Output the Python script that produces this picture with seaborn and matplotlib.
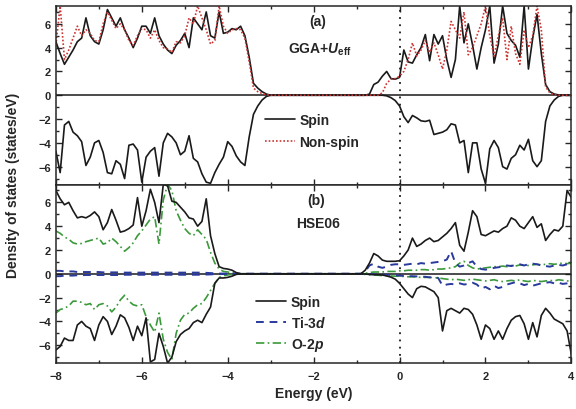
import numpy as np
import matplotlib
matplotlib.use('Agg')
import matplotlib.pyplot as plt
import seaborn as sns
from matplotlib.ticker import MultipleLocator

# Energy sampling (eV): valence region and conduction region
E_val = np.round(np.arange(-8.0, -2.95, 0.1), 1)
E_con = np.round(np.arange(-1.2, 4.05, 0.1), 1)

# ---- (a) GGA+U_eff ----
a_spin_up_val = [4.5, 3.5, 2.6, 3.2, 3.8, 4.5, 4.8, 6.5, 5.0, 4.5,
                 4.3, 5.5, 7.2, 6.5, 5.8, 6.5, 5.5, 4.8, 4.0, 4.8,
                 5.8, 5.8, 5.2, 6.5, 5.0, 4.3, 3.8, 3.5, 4.2, 4.6,
                 5.2, 4.0, 6.5, 6.0, 5.5, 7.0, 5.0, 4.8, 7.0, 5.2,
                 5.3, 5.6, 5.5, 5.8, 5.0, 3.2, 1.0, 0.6, 0.3, 0.1,
                 0.0]
a_spin_up_con = [0, 0, 0, 0, 0, 0.1, 0.9, 1.1, 1.6, 2.0,
                 1.4, 1.35, 1.5, 3.8, 2.8, 2.7, 3.4, 4.0, 5.1, 2.9,
                 5.1, 4.3, 5.0, 3.0, 1.5, 3.0, 7.5, 4.4, 6.0, 4.2,
                 2.2, 4.0, 5.5, 7.5, 2.7, 4.3, 7.5, 5.2, 4.6, 4.2,
                 3.2, 7.5, 2.2, 4.8, 6.8, 3.5, 0.9, 0.3, 0.1, 0.03,
                 0, 0, 0]
a_spin_dn_val = [-4.7, -6.5, -2.5, -2.2, -3.1, -3.4, -3.9, -5.9, -5.2, -4.0,
                 -3.8, -4.8, -6.5, -6.6, -5.5, -5.8, -7.0, -4.2, -4.1, -4.6,
                 -7.3, -5.2, -4.7, -4.4, -6.8, -4.0, -3.2, -3.5, -4.0, -5.0,
                 -4.7, -3.4, -5.3, -5.6, -6.6, -7.3, -7.4, -6.5, -5.8, -5.2,
                 -3.9, -4.3, -5.1, -5.6, -5.9, -3.5, -1.6, -0.9, -0.4, -0.1,
                 0.0]
a_spin_dn_con = [0, 0, 0, 0, 0, 0, 0, 0, 0, -0.05,
                 -0.2, -0.45, -0.9, -1.8, -2.3, -1.7, -1.9, -2.15, -2.2, -2.1,
                 -3.3, -3.2, -3.1, -2.9, -2.4, -2.5, -4.0, -3.8, -6.5, -4.0,
                 -4.0, -6.2, -7.4, -4.5, -3.8, -4.4, -6.0, -6.2, -5.3, -5.0,
                 -4.2, -4.6, -3.7, -5.5, -6.0, -5.5, -2.2, -0.9, -0.4, -0.1,
                 0, 0, 0]
a_nonspin_val = [4.2, 7.5, 3.0, 3.8, 4.8, 5.8, 5.0, 5.5, 5.2, 4.6,
                 4.5, 6.0, 7.0, 6.3, 5.6, 6.0, 5.5, 4.6, 4.2, 5.0,
                 5.6, 5.5, 4.8, 5.5, 4.6, 4.0, 3.9, 3.6, 4.5, 4.4,
                 5.0, 6.5, 6.0, 7.5, 6.5, 5.5, 4.3, 4.6, 7.5, 5.8,
                 5.2, 5.5, 5.6, 5.5, 4.8, 2.8, 0.6, 0.3, 0.15, 0.05,
                 0.0]
a_nonspin_con = [0, 0, 0, 0, 0, 0, 0, 0, 0.2, 1.0,
                 1.35, 1.4, 1.6, 2.0, 3.0, 4.4, 3.3, 3.8, 4.6, 3.6,
                 4.4, 3.4, 2.2, 3.8, 6.2, 5.5, 4.8, 7.0, 3.4, 4.0,
                 5.0, 6.0, 7.5, 5.0, 3.3, 5.0, 6.5, 3.0, 5.8, 3.5,
                 2.6, 5.5, 4.0, 5.0, 7.5, 5.5, 0.7, 0.2, 0.05, 0,
                 0, 0, 0]

# ---- (b) HSE06 ----
b_spin_up_val = [7.0, 6.3, 5.8, 6.0, 5.3, 4.7, 4.8, 4.7, 4.9, 5.2,
                 4.8, 3.7, 4.3, 5.4, 4.5, 3.5, 3.6, 3.8, 4.1, 6.4,
                 4.0, 5.3, 7.1, 6.0, 4.3, 7.5, 7.4, 6.1, 6.0, 5.6,
                 5.2, 4.7, 4.6, 4.0, 4.4, 6.3, 3.2, 1.7, 0.6, 0.45,
                 0.4, 0.3, 0.1, 0, 0, 0, 0, 0, 0, 0,
                 0]
b_spin_up_con = [0, 0, 0, 0, 0.3, 0.9, 1.7, 1.5, 1.15, 1.05,
                 1.05, 1.05, 1.1, 1.5, 2.0, 3.0, 2.3, 2.5, 2.8, 3.0,
                 2.7, 2.8, 3.1, 3.4, 3.8, 4.3, 2.4, 1.9, 3.5, 5.3,
                 4.8, 3.3, 3.2, 3.4, 3.6, 3.5, 3.8, 4.0, 4.7, 4.5,
                 4.0, 3.8, 4.3, 4.8, 3.9, 4.2, 2.8, 3.3, 3.7, 3.6,
                 4.0, 7.0, 6.4]
b_spin_dn_val = [-6.4, -6.1, -5.4, -5.6, -5.6, -4.3, -4.0, -4.4, -4.6, -5.6,
                 -4.3, -3.6, -4.0, -5.1, -4.4, -3.45, -3.7, -4.5, -5.6, -4.4,
                 -5.2, -3.7, -7.4, -7.2, -5.0, -6.1, -7.5, -7.0, -5.7, -5.1,
                 -4.8, -4.6, -4.1, -3.9, -4.1, -3.4, -2.8, -0.8, -0.35, -0.35,
                 -0.3, -0.2, -0.05, 0, 0, 0, 0, 0, 0, 0,
                 0]
b_spin_dn_con = [0, 0, 0, 0, -0.02, -0.05, -0.07, -0.08, -0.1, -0.18,
                 -0.28, -0.45, -0.8, -1.25, -1.7, -2.0, -1.25, -1.05, -1.1, -1.3,
                 -1.5, -2.0, -4.8, -3.1, -2.9, -3.1, -3.3, -2.9, -3.0, -3.4,
                 -4.3, -5.5, -4.3, -4.6, -5.5, -4.8, -5.5, -4.6, -3.9, -3.6,
                 -3.5, -4.2, -5.5, -4.1, -5.3, -3.5, -2.9, -3.3, -3.8, -4.0,
                 -4.2, -4.8, -6.8]
b_ti_up_val = [0.25, 0.25, 0.2, 0.2, 0.2, 0.15, 0.15, 0.15, 0.15, 0.15,
               0.15, 0.12, 0.12, 0.12, 0.12, 0.12, 0.1, 0.1, 0.1, 0.1,
               0.1, 0.1, 0.1, 0.1, 0.1, 0.1, 0.1, 0.1, 0.1, 0.1,
               0.1, 0.1, 0.1, 0.1, 0.1, 0.08, 0.06, 0.04, 0.02, 0.02,
               0.02, 0.01, 0, 0, 0, 0, 0, 0, 0, 0,
               0]
b_ti_up_con = [0, 0, 0, 0, 0.2, 0.7, 0.85, 0.6, 0.5, 0.6,
               0.75, 0.8, 0.8, 0.75, 0.8, 0.85, 0.8, 0.9, 0.85, 0.9,
               0.95, 1.0, 1.05, 1.2, 1.9, 0.9, 0.6, 0.7, 0.9, 1.05,
               0.6, 0.4, 0.35, 0.4, 0.5, 0.55, 0.6, 0.7, 0.65, 0.75,
               0.8, 0.7, 0.8, 0.85, 0.8, 0.7, 0.65, 0.6, 0.7, 0.75,
               0.7, 0.8, 0.75]
b_ti_dn_val = [-0.2, -0.2, -0.15, -0.15, -0.15, -0.12, -0.12, -0.1, -0.1, -0.1,
               -0.1, -0.1, -0.1, -0.1, -0.1, -0.1, -0.08, -0.08, -0.08, -0.08,
               -0.08, -0.08, -0.08, -0.08, -0.08, -0.08, -0.08, -0.08, -0.08, -0.08,
               -0.08, -0.08, -0.08, -0.08, -0.08, -0.06, -0.05, -0.03, -0.02, -0.02,
               -0.01, -0.01, 0, 0, 0, 0, 0, 0, 0, 0,
               0]
b_ti_dn_con = [0, 0, 0, 0, -0.02, -0.03, -0.04, -0.05, -0.06, -0.08,
               -0.1, -0.12, -0.15, -0.18, -0.2, -0.2, -0.22, -0.25, -0.25, -0.3,
               -0.3, -0.35, -1.0, -0.9, -0.85, -0.9, -0.8, -0.9, -0.85, -0.75,
               -0.9, -1.25, -1.1, -1.3, -1.0, -1.2, -1.1, -0.9, -0.8, -0.7,
               -0.8, -0.95, -0.85, -1.0, -0.9, -0.8, -0.75, -0.7, -0.8, -0.75,
               -0.85, -0.8, -0.7]
b_o_up_val = [3.6, 3.4, 3.1, 2.9, 2.6, 2.5, 2.55, 2.7, 2.8, 2.9,
              3.0, 2.5, 2.6, 3.0, 2.7, 2.3, 1.9, 2.2, 2.6, 3.2,
              3.6, 4.1, 4.6, 4.8, 2.5, 6.2, 7.5, 7.0, 5.3, 4.5,
              3.8, 3.4, 3.2, 3.7, 3.3, 2.9, 1.8, 0.9, 0.4, 0.2,
              0.15, 0.1, 0.05, 0, 0, 0, 0, 0, 0, 0,
              0]
b_o_up_con = [0, 0, 0, 0, 0.05, 0.1, 0.15, 0.15, 0.15, 0.2,
              0.2, 0.2, 0.25, 0.25, 0.3, 0.3, 0.3, 0.35, 0.35, 0.3,
              0.35, 0.4, 0.4, 0.45, 0.5, 0.6, 0.9, 1.05, 0.7, 0.5,
              0.4, 0.45, 0.5, 0.55, 0.6, 0.6, 0.65, 0.6, 0.7, 0.65,
              0.75, 0.7, 0.7, 0.75, 0.8, 0.75, 0.8, 0.85, 0.8, 0.85,
              0.9, 0.85, 0.9]
b_o_dn_val = [-3.3, -3.0, -2.9, -2.7, -2.3, -2.3, -2.4, -2.6, -2.5, -3.0,
              -2.6, -2.5, -2.7, -3.2, -2.8, -2.2, -1.8, -2.3, -2.6, -2.7,
              -2.6, -3.6, -4.3, -4.9, -3.3, -5.5, -6.6, -7.2, -5.0, -3.9,
              -3.4, -3.3, -2.9, -2.6, -2.5, -2.0, -1.4, -0.8, -0.3, -0.15,
              -0.1, -0.05, 0, 0, 0, 0, 0, 0, 0, 0,
              0]
b_o_dn_con = [0, 0, 0, 0, -0.05, -0.08, -0.1, -0.12, -0.15, -0.15,
              -0.18, -0.2, -0.2, -0.22, -0.25, -0.25, -0.28, -0.3, -0.3, -0.3,
              -0.32, -0.35, -0.4, -0.45, -0.5, -0.45, -0.5, -0.55, -0.5, -0.45,
              -0.5, -0.55, -0.6, -0.55, -0.5, -0.6, -0.65, -0.6, -0.55, -0.6,
              -0.5, -0.6, -0.65, -0.55, -0.6, -0.65, -0.6, -0.55, -0.6, -0.5,
              -0.55, -0.6, -0.6]

E = np.concatenate([E_val, E_con])


def full(val, con):
    return np.concatenate([val, con])


sns.set_style('ticks')
plt.rcParams['font.family'] = ['Liberation Sans', 'DejaVu Sans']
plt.rcParams['font.weight'] = 'bold'
plt.rcParams['axes.labelweight'] = 'bold'
plt.rcParams['mathtext.fontset'] = 'custom'
plt.rcParams['mathtext.it'] = 'Liberation Sans:italic:bold'
plt.rcParams['mathtext.rm'] = 'Liberation Sans:bold'

BLACK = '#1a1a1a'
RED = '#cc3333'
BLUE = '#2a3a9c'
GREEN = '#3a9a3a'
LW = 1.2

fig, (ax1, ax2) = plt.subplots(2, 1, figsize=(5.76, 4.10), dpi=100, sharex=True)
plt.subplots_adjust(left=0.097, right=0.992, top=0.983, bottom=0.112, hspace=0)

# Panel (a)
sns.lineplot(x=E, y=full(a_spin_up_val, a_spin_up_con), ax=ax1, color=BLACK,
             lw=LW, estimator=None, sort=False)
h_spin_a = ax1.lines[-1]
sns.lineplot(x=E, y=full(a_spin_dn_val, a_spin_dn_con), ax=ax1, color=BLACK,
             lw=LW, estimator=None, sort=False)
sns.lineplot(x=E, y=full(a_nonspin_val, a_nonspin_con), ax=ax1, color=RED,
             lw=LW, linestyle=(0, (1, 1.2)), estimator=None, sort=False)
h_non_a = ax1.lines[-1]

# Panel (b)
sns.lineplot(x=E, y=full(b_o_up_val, b_o_up_con), ax=ax2, color=GREEN,
             lw=LW, linestyle=(0, (5, 2, 1, 2)), estimator=None, sort=False)
h_o = ax2.lines[-1]
sns.lineplot(x=E, y=full(b_o_dn_val, b_o_dn_con), ax=ax2, color=GREEN,
             lw=LW, linestyle=(0, (5, 2, 1, 2)), estimator=None, sort=False)
sns.lineplot(x=E, y=full(b_ti_up_val, b_ti_up_con), ax=ax2, color=BLUE,
             lw=1.4, linestyle=(0, (4, 3)), estimator=None, sort=False)
h_ti = ax2.lines[-1]
sns.lineplot(x=E, y=full(b_ti_dn_val, b_ti_dn_con), ax=ax2, color=BLUE,
             lw=1.4, linestyle=(0, (4, 3)), estimator=None, sort=False)
sns.lineplot(x=E, y=full(b_spin_up_val, b_spin_up_con), ax=ax2, color=BLACK,
             lw=LW, estimator=None, sort=False)
h_spin_b = ax2.lines[-1]
sns.lineplot(x=E, y=full(b_spin_dn_val, b_spin_dn_con), ax=ax2, color=BLACK,
             lw=LW, estimator=None, sort=False)

for ax in (ax1, ax2):
    ax.axhline(0, color=BLACK, lw=1.1, zorder=1)
    ax.axvline(0, color=BLACK, lw=1.3, linestyle=(0, (1, 3)), zorder=1)
    ax.set_xlim(-8, 4)
    ax.set_ylim(-7.5, 7.5)
    ax.xaxis.set_major_locator(MultipleLocator(2))
    ax.xaxis.set_minor_locator(MultipleLocator(1))
    ax.yaxis.set_major_locator(MultipleLocator(2))
    ax.yaxis.set_minor_locator(MultipleLocator(1))
    ax.tick_params(which='both', direction='in', top=True, right=True,
                   labelsize=8, width=1)
    ax.tick_params(which='major', length=4)
    ax.tick_params(which='minor', length=2)
    for s in ax.spines.values():
        s.set_linewidth(1.1)
    ax.set_ylabel('')
    for lab in ax.get_xticklabels() + ax.get_yticklabels():
        lab.set_fontweight('bold')

ax1.tick_params(labelbottom=False)
ax2.tick_params(axis='x', pad=6)
ax2.set_xlabel('Energy (eV)', fontsize=10, fontweight='bold', labelpad=3)
fig.text(0.022, 0.547, 'Density of states (states/eV)', rotation=90,
         ha='center', va='center', fontsize=10, fontweight='bold')

ax1.text(-1.9, 6.2, '(a)', ha='center', va='center', fontsize=10, fontweight='bold')
ax1.text(-1.85, 3.9, r'GGA+$\mathit{U}_{\mathrm{eff}}$', ha='center', va='center',
         fontsize=10, fontweight='bold')
ax2.text(-1.95, 6.2, '(b)', ha='center', va='center', fontsize=10, fontweight='bold')
ax2.text(-1.9, 4.3, 'HSE06', ha='center', va='center', fontsize=10, fontweight='bold')

leg_kw = dict(frameon=False, loc='center left', borderpad=0, borderaxespad=0,
              handlelength=2.2, handletextpad=0.3,
              prop={'weight': 'bold', 'size': 10})
ax1.legend([h_spin_a, h_non_a], ['Spin', 'Non-spin'],
           bbox_to_anchor=(0.405, 0.30), labelspacing=0.6, **leg_kw)
ax2.legend([h_spin_b, h_ti, h_o], ['Spin', r'Ti-$\mathit{3d}$', r'O-$\mathit{2p}$'],
           bbox_to_anchor=(0.388, 0.22), labelspacing=0.45, **leg_kw)

fig.savefig('out.png', dpi=100)
